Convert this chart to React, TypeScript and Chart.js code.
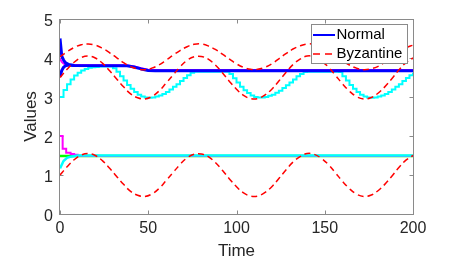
import React, { useEffect, useRef } from 'react';
import { Chart, registerables } from 'chart.js';

Chart.register(...registerables);

const FONT = "'Liberation Sans', Arial, Helvetica, sans-serif";
const TEXT_COLOR = '#262626';
const AXIS_COLOR = '#8a8a8a';

const xTicks = [0, 50, 100, 150, 200];
const yTicks = [0, 1, 2, 3, 4, 5];

// Byzantine (dashed red) trajectories, sampled every 4 time units
const waveTimes = Array.from({ length: 51 }, (_, i) => i * 4);
const byzHigh = [4.03, 4.16, 4.27, 4.34, 4.36, 4.33, 4.25, 4.14, 4.01, 3.88, 3.78, 3.72, 3.70, 3.74, 3.82, 3.94, 4.07, 4.19, 4.29, 4.35, 4.36, 4.31, 4.22, 4.10, 3.97, 3.85, 3.76, 3.71, 3.71, 3.76, 3.85, 3.98, 4.11, 4.23, 4.31, 4.36, 4.35, 4.29, 4.19, 4.07, 3.94, 3.82, 3.74, 3.70, 3.72, 3.78, 3.89, 4.01, 4.14, 4.26, 4.33];
const byzMid = [3.50, 3.71, 3.89, 4.01, 4.05, 4.00, 3.87, 3.68, 3.47, 3.26, 3.08, 2.98, 2.95, 3.01, 3.15, 3.35, 3.56, 3.77, 3.94, 4.03, 4.04, 3.97, 3.82, 3.62, 3.40, 3.20, 3.04, 2.96, 2.96, 3.05, 3.20, 3.41, 3.63, 3.83, 3.97, 4.05, 4.03, 3.93, 3.77, 3.56, 3.34, 3.15, 3.01, 2.95, 2.98, 3.09, 3.26, 3.47, 3.69, 3.88, 4.00];
const byzLow = [1.00, 1.21, 1.39, 1.51, 1.55, 1.50, 1.37, 1.18, 0.97, 0.76, 0.58, 0.48, 0.45, 0.51, 0.65, 0.85, 1.06, 1.27, 1.44, 1.53, 1.54, 1.47, 1.32, 1.12, 0.90, 0.70, 0.54, 0.46, 0.46, 0.55, 0.70, 0.91, 1.13, 1.33, 1.47, 1.55, 1.53, 1.43, 1.27, 1.06, 0.84, 0.65, 0.51, 0.45, 0.48, 0.59, 0.76, 0.97, 1.19, 1.38, 1.50];

// Cyan stair trajectory (upper group), every 2 time units
const cyanTimes = Array.from({ length: 101 }, (_, i) => i * 2);
const cyanUpper = [
  3.00, 3.18, 3.33, 3.45, 3.55, 3.62, 3.68, 3.72, 3.75, 3.76,
  3.77, 3.78, 3.78, 3.78, 3.78, 3.74, 3.65, 3.53, 3.42, 3.31,
  3.21, 3.13, 3.06, 3.01, 2.99, 2.98, 2.99, 3.01, 3.04, 3.08,
  3.13, 3.19, 3.26, 3.33, 3.41, 3.49, 3.56, 3.62, 3.65, 3.65,
  3.65, 3.65, 3.65, 3.65, 3.65, 3.65, 3.65, 3.65, 3.59, 3.48,
  3.37, 3.26, 3.17, 3.10, 3.04, 3.00, 2.99, 2.99, 3.00, 3.03,
  3.06, 3.11, 3.16, 3.23, 3.30, 3.37, 3.45, 3.53, 3.59, 3.64,
  3.65, 3.65, 3.65, 3.65, 3.65, 3.65, 3.65, 3.65, 3.65, 3.64,
  3.53, 3.42, 3.31, 3.21, 3.13, 3.06, 3.01, 2.99, 2.98, 2.99,
  3.01, 3.04, 3.08, 3.13, 3.19, 3.26, 3.33, 3.41, 3.49, 3.56,
  3.62,
];

// Normal (blue) trajectories
const normalATimes = [0, 1, 2, 3, 5, 8, 36, 38, 42, 46, 50, 54, 200];
const normalAValues = [4.5, 4.05, 3.95, 3.88, 3.83, 3.81, 3.80, 3.80, 3.77, 3.72, 3.68, 3.67, 3.67];
const normalBTimes = [0, 1, 2, 3, 5, 8];
const normalBValues = [3.52, 3.68, 3.76, 3.80, 3.82, 3.81];

// Magenta (upper group)
const magUpperTimes = [0, 1, 2, 3, 5, 8, 36, 38, 42, 46, 50, 54, 200];
const magUpperValues = [3.98, 3.90, 3.86, 3.83, 3.82, 3.82, 3.815, 3.81, 3.785, 3.735, 3.70, 3.69, 3.69];

// Lower group
const cyanLowerTimes = [0, 2, 4, 6, 10, 200];
const cyanLowerValues = [1.17, 1.36, 1.44, 1.47, 1.50, 1.50];
const magLowerTimes = [0, 1.5, 3.5, 6, 8, 10, 200];
const magLowerValues = [2.0, 1.67, 1.57, 1.54, 1.52, 1.485, 1.485];
const greenTimes = [0, 200];
const greenValues = [1.49, 1.49];

const legendLabels = ['Normal', 'Byzantine'];

const pts = (xs: number[], ys: number[]) => xs.map((x, i) => ({ x, y: ys[i] }));

const LEG_FONT = 15;
const LEG_PAD = 4;

function frameRect(chart: any) {
  const ca = chart.chartArea;
  const fl = ca.right - 101.5;
  const ft = ca.top + 5.5;
  return { fl, ft };
}

const boxPlugin = {
  id: 'matlabBox',
  beforeLayout(chart: any) {
    const lg = chart.legend;
    if (lg && !lg.__patched) {
      lg.__patched = true;
      lg._layers = () => [
        {
          z: 10,
          draw: () => {
            const ctx = chart.ctx;
            const { fl, ft } = frameRect(chart);
            lg.left = fl + 13.5;
            lg.top = ft - 1;
            lg.right = lg.left + 110;
            lg.bottom = lg.top + 50;
            ctx.save();
            ctx.font = `${LEG_FONT}px ${FONT}`;
            let maxW = 0;
            (lg.legendItems || []).forEach((it: any) => {
              maxW = Math.max(maxW, ctx.measureText(it.text).width);
            });
            const textX = lg.left + LEG_PAD + LEG_FONT / 2;
            const fr = Math.round(textX + maxW + 5) + 0.5;
            const fb = ft + 39;
            ctx.fillStyle = '#ffffff';
            ctx.fillRect(fl, ft, fr - fl, fb - ft);
            ctx.strokeStyle = AXIS_COLOR;
            ctx.lineWidth = 1;
            ctx.strokeRect(fl, ft, fr - fl, fb - ft);
            ctx.restore();
            lg.draw(chart.chartArea);
            ctx.save();
            (lg.legendItems || []).forEach((it: any, i: number) => {
              const ds = chart.data.datasets[it.datasetIndex];
              const yy = lg.top + LEG_PAD + i * (LEG_FONT + LEG_PAD) + LEG_FONT / 2;
              ctx.beginPath();
              ctx.strokeStyle = ds.borderColor;
              ctx.lineWidth = ds.borderDash ? 1.5 : 2;
              ctx.setLineDash(ds.borderDash ? [7, 5] : []);
              ctx.moveTo(fl + 1.5, yy);
              ctx.lineTo(textX - 1.5, yy);
              ctx.stroke();
            });
            ctx.restore();
          },
        },
      ];
    }
  },
  beforeDatasetsDraw(chart: any) {
    const { ctx, chartArea, scales } = chart;
    const l = Math.round(chartArea.left) - 0.5;
    const r = Math.round(chartArea.right) + 0.5;
    const t = Math.round(chartArea.top) + 0.5;
    const b = Math.round(chartArea.bottom) + 0.5;
    const tl = 4;
    ctx.save();
    ctx.strokeStyle = AXIS_COLOR;
    ctx.lineWidth = 1;
    ctx.strokeRect(l, t, r - l, b - t);
    ctx.beginPath();
    xTicks.forEach((v) => {
      const px = Math.round(scales.x.getPixelForValue(v)) + 0.5;
      ctx.moveTo(px, b);
      ctx.lineTo(px, b - tl);
      ctx.moveTo(px, t);
      ctx.lineTo(px, t + tl);
    });
    yTicks.forEach((v) => {
      const py = Math.round(scales.y.getPixelForValue(v)) + 0.5;
      ctx.moveTo(l, py);
      ctx.lineTo(l + tl, py);
      ctx.moveTo(r, py);
      ctx.lineTo(r - tl, py);
    });
    ctx.stroke();
    ctx.restore();
  },
};

export default function App() {
  const ref = useRef<HTMLCanvasElement>(null);

  useEffect(() => {
    if (!ref.current) return;
    const common = { pointRadius: 0, pointHoverRadius: 0, fill: false };
    const datasets: any[] = [
      { ...common, label: 'Normal', data: pts(normalATimes, normalAValues), borderColor: '#0000ff', borderWidth: 3, order: 1, borderJoinStyle: 'round' },
      { ...common, label: 'Byzantine', data: pts(waveTimes, byzHigh), borderColor: '#ff0000', borderWidth: 1.5, borderDash: [6, 4], tension: 0.4, order: 0 },
      { ...common, label: 'Byzantine 2', data: pts(waveTimes, byzMid), borderColor: '#ff0000', borderWidth: 1.5, borderDash: [6, 4], tension: 0.4, order: 0 },
      { ...common, label: 'Byzantine 3', data: pts(waveTimes, byzLow), borderColor: '#ff0000', borderWidth: 1.5, borderDash: [6, 4], tension: 0.4, order: 0 },
      { ...common, label: 'Normal 2', data: pts(normalBTimes, normalBValues), borderColor: '#0000ff', borderWidth: 3, order: 1, borderJoinStyle: 'round' },
      { ...common, label: 'Node m1', data: pts(magUpperTimes, magUpperValues), borderColor: '#ff00ff', borderWidth: 2, order: 2 },
      { ...common, label: 'Node c1', data: pts(cyanTimes, cyanUpper), borderColor: '#00ffff', borderWidth: 2, stepped: true, order: 3 },
      { ...common, label: 'Node c2', data: pts(cyanLowerTimes, cyanLowerValues), borderColor: '#00ffff', borderWidth: 2.5, order: 1 },
      { ...common, label: 'Node m2', data: pts(magLowerTimes, magLowerValues), borderColor: '#ff00ff', borderWidth: 2, stepped: true, order: 2 },
      { ...common, label: 'Node g2', data: pts(greenTimes, greenValues), borderColor: '#00ff00', borderWidth: 2.5, order: 3 },
    ];
    const legendIdx = [0, 1];

    const chart = new Chart(ref.current, {
      type: 'line',
      data: { datasets },
      options: {
        responsive: false,
        animation: false,
        devicePixelRatio: 1,
        events: [],
        layout: { padding: { left: 0, top: 19, right: 44, bottom: 0 } },
        scales: {
          x: {
            type: 'linear',
            min: 0,
            max: 200,
            afterBuildTicks: (s: any) => {
              s.ticks = xTicks.map((v) => ({ value: v }));
            },
            afterFit: (s: any) => {
              s.height = 49;
            },
            ticks: { padding: 5, color: TEXT_COLOR, font: { family: FONT, size: 16 }, maxRotation: 0, autoSkip: false },
            grid: { display: false, drawTicks: false },
            border: { display: false },
            title: { display: true, text: 'Time', color: TEXT_COLOR, font: { family: FONT, size: 17 }, padding: { top: 0, bottom: 1 } },
          },
          y: {
            type: 'linear',
            min: 0,
            max: 5,
            afterBuildTicks: (s: any) => {
              s.ticks = yTicks.map((v) => ({ value: v }));
            },
            afterFit: (s: any) => {
              s.width = 60;
            },
            ticks: {
              padding: 7,
              color: TEXT_COLOR,
              font: { family: FONT, size: 16, lineHeight: '5px' },
              autoSkip: false,
              callback: (v: any) => ['', String(v)],
            },
            grid: { display: false, drawTicks: false },
            border: { display: false },
            title: { display: true, text: 'Values', color: TEXT_COLOR, font: { family: FONT, size: 17 }, padding: { top: 21, bottom: 0 } },
          },
        },
        plugins: {
          tooltip: { enabled: false },
          legend: {
            display: true,
            position: 'chartArea' as any,
            align: 'start',
            labels: {
              font: { family: FONT, size: LEG_FONT },
              color: '#000000',
              boxWidth: 0,
              boxHeight: 0,
              padding: LEG_PAD,
              generateLabels: () =>
                legendIdx.map((di, i) => ({
                  text: legendLabels[i],
                  fillStyle: 'rgba(0,0,0,0)',
                  strokeStyle: 'rgba(0,0,0,0)',
                  lineWidth: 0,
                  hidden: false,
                  datasetIndex: di,
                  fontColor: '#000000',
                })),
            },
          },
        },
      },
      plugins: [boxPlugin],
    } as any);

    return () => {
      chart.destroy();
    };
  }, []);

  return (
    <canvas
      ref={ref}
      width={457}
      height={263}
      style={{ position: 'fixed', left: 0, top: 0, width: 457, height: 263, display: 'block' }}
    />
  );
}
